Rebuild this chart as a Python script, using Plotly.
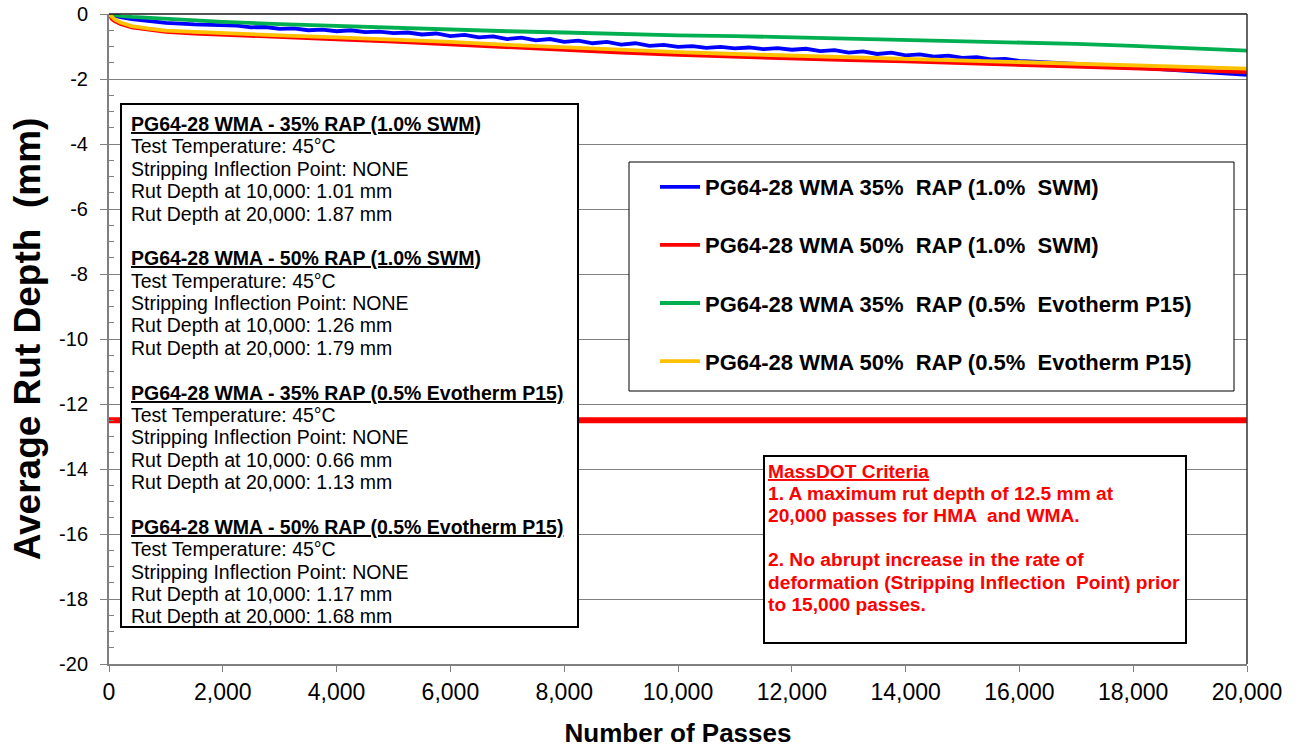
import plotly.graph_objects as go

# ---- rut-depth data (Hamburg wheel tracking, average of both wheels) ----
blue_passes = [0, 50, 100, 200, 400, 700, 1000, 1500, 2000,
               2250, 2500, 2750, 3000, 3250, 3500, 3750, 4000, 4250, 4500, 4750,
               5000, 5250, 5500, 5750, 6000, 6250, 6500, 6750, 7000, 7250, 7500,
               7750, 8000, 8250, 8500, 8750, 9000, 9250, 9500, 9750, 10000,
               10250, 10500, 10750, 11000, 11250, 11500, 11750, 12000, 12250,
               12500, 12750, 13000, 13250, 13500, 13750, 14000, 14250, 14500,
               14750, 15000, 15250, 15500, 15750, 16000, 16500, 17000, 17500,
               18000, 18500, 19000, 19500, 20000]
blue_depth = [0.0, -0.03, -0.06, -0.10, -0.16, -0.22, -0.27, -0.32, -0.36,
              -0.36, -0.41, -0.40, -0.46, -0.44, -0.50, -0.48, -0.53, -0.50, -0.56, -0.54,
              -0.59, -0.57, -0.63, -0.60, -0.68, -0.64, -0.72, -0.69, -0.77, -0.73, -0.81,
              -0.77, -0.86, -0.82, -0.90, -0.86, -0.94, -0.90, -0.98, -0.95, -1.01,
              -0.99, -1.04, -1.01, -1.06, -1.03, -1.08, -1.05, -1.10, -1.07,
              -1.14, -1.11, -1.19, -1.15, -1.23, -1.19, -1.27, -1.24, -1.31,
              -1.28, -1.35, -1.33, -1.40, -1.38, -1.44, -1.48, -1.53, -1.58,
              -1.64, -1.70, -1.76, -1.82, -1.87]

std_passes = [0, 50, 100, 200, 400, 700, 1000, 1500, 2000, 3000, 4000, 5000,
              6000, 7000, 8000, 9000, 10000, 11000, 12000, 13000, 14000,
              15000, 16000, 17000, 18000, 19000, 20000]
red_depth = [0.0, -0.15, -0.22, -0.31, -0.41, -0.49, -0.55, -0.60, -0.64, -0.71,
             -0.78, -0.85, -0.94, -1.03, -1.11, -1.19, -1.26, -1.32, -1.37, -1.42,
             -1.46, -1.51, -1.55, -1.61, -1.67, -1.73, -1.79]
green_depth = [0.0, -0.02, -0.04, -0.06, -0.09, -0.12, -0.16, -0.20, -0.24, -0.31,
               -0.37, -0.43, -0.48, -0.53, -0.57, -0.62, -0.66, -0.68, -0.72, -0.76,
               -0.79, -0.84, -0.88, -0.92, -0.98, -1.05, -1.13]
orange_depth = [0.0, -0.10, -0.17, -0.26, -0.37, -0.45, -0.51, -0.55, -0.59, -0.66,
                -0.72, -0.78, -0.86, -0.95, -1.03, -1.10, -1.17, -1.23, -1.28, -1.33,
                -1.37, -1.42, -1.47, -1.52, -1.57, -1.62, -1.68]

series_names = ["PG64-28 WMA 35%  RAP (1.0%  SWM)",
                "PG64-28 WMA 50%  RAP (1.0%  SWM)",
                "PG64-28 WMA 35%  RAP (0.5%  Evotherm P15)",
                "PG64-28 WMA 50%  RAP (0.5%  Evotherm P15)"]
box_titles = ["PG64-28 WMA - 35% RAP (1.0% SWM)",
              "PG64-28 WMA - 50% RAP (1.0% SWM)",
              "PG64-28 WMA - 35% RAP (0.5% Evotherm P15)",
              "PG64-28 WMA - 50% RAP (0.5% Evotherm P15)"]
series_colors = ["#0000FF", "#FF0000", "#00B050", "#FFC000"]
test_temp_c = 45

# MassDOT limit line
limit_passes = [0, 20000]
limit_depth = [-12.5, -12.5]

x_ticks = list(range(0, 20001, 2000))
y_ticks = list(range(-20, 1, 2))

series = [(blue_passes, blue_depth), (std_passes, red_depth),
          (std_passes, green_depth), (std_passes, orange_depth)]

FONT = "Arial, Liberation Sans, sans-serif"

# plot area in pixels
L, R, T, B = 109, 1247, 14, 664
W, H = 1302, 748


def px(x):
    return (x - L) / (R - L)


def py(y):
    return (B - y) / (B - T)


fig = go.Figure()

fig.add_trace(go.Scatter(x=limit_passes, y=limit_depth, mode="lines",
                         line=dict(color="#FF0000", width=6),
                         showlegend=False, hoverinfo="skip"))

for i, ((xs, ys), name, col) in enumerate(zip(series, series_names, series_colors)):
    fig.add_trace(go.Scatter(x=xs, y=ys, mode="lines", name=name,
                             line=dict(color=col, width=3.8),
                             legendgroup=f"g{i}"))

shapes = []
annotations = []

# frame: dark top and right edges
shapes.append(dict(type="line", xref="paper", yref="paper", x0=0, x1=1, y0=1, y1=1,
                   line=dict(color="#1a1a1a", width=1.5)))
shapes.append(dict(type="line", xref="paper", yref="paper", x0=1, x1=1, y0=0, y1=1,
                   line=dict(color="#333333", width=1.5)))

# summary text box
shapes.append(dict(type="rect", xref="paper", yref="paper",
                   x0=px(121), x1=px(578), y0=py(627), y1=py(104),
                   fillcolor="white", line=dict(color="black", width=2), layer="above"))


def depth_at(xs, ys, p):
    return abs(ys[xs.index(p)])


lines = []
for (xs, ys), title in zip(series, box_titles):
    lines.append(f"<b><u>{title}</u></b>")
    lines.append(f"Test Temperature: {test_temp_c}°C")
    lines.append("Stripping Inflection Point: NONE")
    lines.append(f"Rut Depth at 10,000: {depth_at(xs, ys, 10000):.2f} mm")
    lines.append(f"Rut Depth at 20,000: {depth_at(xs, ys, 20000):.2f} mm")
    lines.append("")

for k, txt in enumerate(lines):
    if not txt:
        continue
    annotations.append(dict(xref="paper", yref="paper", x=px(129), y=py(124 + 22.38 * k),
                            xanchor="left", yanchor="middle", showarrow=False,
                            text=txt, font=dict(family=FONT, size=19.5, color="black")))

# legend frame
shapes.append(dict(type="rect", xref="paper", yref="paper",
                   x0=px(629), x1=px(1234), y0=py(391), y1=py(162),
                   fillcolor="white", line=dict(color="black", width=1), layer="above"))

# criteria box
shapes.append(dict(type="rect", xref="paper", yref="paper",
                   x0=px(764), x1=px(1186), y0=py(643), y1=py(456),
                   fillcolor="white", line=dict(color="black", width=2), layer="above"))
crit_lines = ["<u>MassDOT Criteria</u>",
              "1. A maximum rut depth of 12.5 mm at",
              "20,000 passes for HMA  and WMA.",
              "",
              "2. No abrupt increase in the rate of",
              "deformation (Stripping Inflection  Point) prior",
              "to 15,000 passes."]
for k, txt in enumerate(crit_lines):
    if not txt:
        continue
    annotations.append(dict(xref="paper", yref="paper", x=px(766), y=py(471 + 22.2 * k),
                            xanchor="left", yanchor="middle", showarrow=False,
                            text=f"<b>{txt}</b>",
                            font=dict(family=FONT, size=19.2, color="#FF0000")))

fig.update_layout(
    width=W, height=H,
    margin=dict(l=L, r=W - R, t=T, b=H - B),
    paper_bgcolor="white", plot_bgcolor="white",
    font=dict(family=FONT, color="black"),
    shapes=shapes, annotations=annotations,
    legend=dict(x=px(655), y=py(166), xanchor="left", yanchor="top",
                bgcolor="rgba(0,0,0,0)", borderwidth=0,
                font=dict(family=FONT, size=22, color="black", weight="bold"),
                traceorder="grouped", tracegroupgap=26.5, itemwidth=40),
    xaxis=dict(range=[0, 20000], tickvals=x_ticks, automargin=False,
               ticktext=[f"{v:,}" for v in x_ticks],
               showgrid=False, zeroline=False,
               showline=True, linecolor="#808080", linewidth=2,
               ticks="outside", ticklen=6, tickcolor="#808080", tickwidth=1,
               tickfont=dict(family=FONT, size=23, color="black"),
               title=dict(text="<b>Number of Passes</b>",
                          font=dict(family=FONT, size=26, color="black"), standoff=23)),
    yaxis=dict(range=[-20, 0], tickvals=y_ticks, automargin=False,
               ticktext=[str(v) for v in y_ticks],
               showgrid=True, gridcolor="#808080", gridwidth=1.2, zeroline=False,
               showline=True, linecolor="#808080", linewidth=2,
               ticks="outside", ticklen=7, tickcolor="#808080", tickwidth=1,
               ticklabelstandoff=8,
               minor=dict(dtick=0.5, ticks="inside", ticklen=5, tickcolor="#808080",
                          showgrid=False),
               tickfont=dict(family=FONT, size=20, color="black"),
               title=dict(text="<b>Average Rut Depth  (mm)</b>",
                          font=dict(family=FONT, size=37, color="black"), standoff=7)),
)

fig.write_html("out.html")
